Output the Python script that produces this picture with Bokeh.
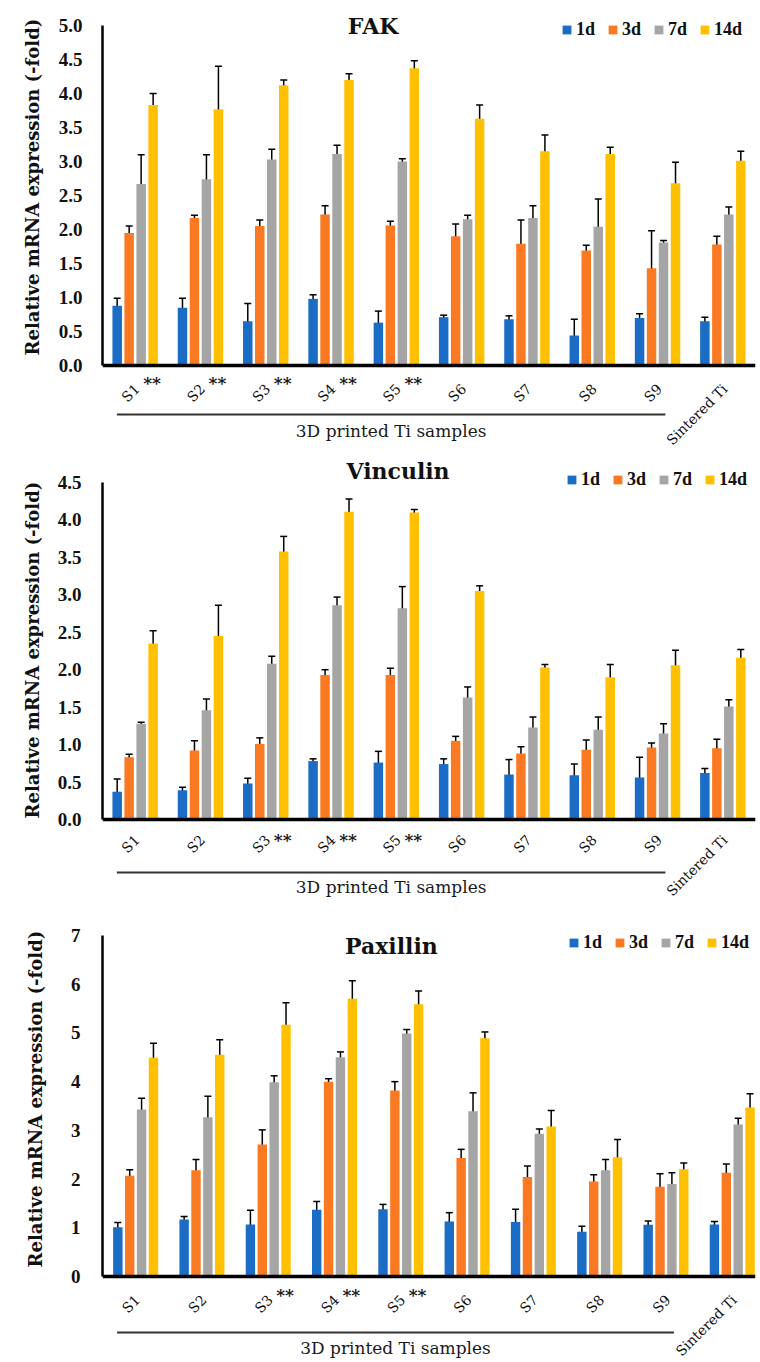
from math import pi
from bokeh.plotting import figure
from bokeh.layouts import column
from bokeh.models import (ColumnDataSource, Range1d, FixedTicker, Whisker, TeeHead,
                          Legend, LegendItem, Label, Span, NumeralTickFormatter, Title)
from bokeh.core.properties import value
from bokeh.embed import file_html
from bokeh.resources import INLINE

# ---------------- data ----------------
categories = ["S1", "S2", "S3", "S4", "S5", "S6", "S7", "S8", "S9", "Sintered Ti"]
series_names = ["1d", "3d", "7d", "14d"]
group_label = "3D printed Ti samples"
y_title = "Relative mRNA expression (-fold)"

fak_marks = ["**", "**", "**", "**", "**", "", "", "", "", ""]
vin_marks = ["", "", "**", "**", "**", "", "", "", "", ""]
pax_marks = ["", "", "**", "**", "**", "", "", "", "", ""]

fak_1d = [0.88, 0.85, 0.65, 0.98, 0.63, 0.71, 0.68, 0.44, 0.70, 0.65]
fak_1d_err = [0.11, 0.14, 0.26, 0.06, 0.17, 0.03, 0.05, 0.24, 0.06, 0.06]
fak_3d = [1.95, 2.17, 2.05, 2.22, 2.06, 1.90, 1.79, 1.69, 1.43, 1.78]
fak_3d_err = [0.10, 0.04, 0.09, 0.13, 0.06, 0.18, 0.35, 0.08, 0.55, 0.12]
fak_7d = [2.67, 2.74, 3.03, 3.11, 3.00, 2.15, 2.17, 2.04, 1.81, 2.22]
fak_7d_err = [0.43, 0.36, 0.15, 0.13, 0.04, 0.06, 0.18, 0.41, 0.03, 0.11]
fak_14d = [3.83, 3.77, 4.12, 4.20, 4.37, 3.63, 3.15, 3.11, 2.68, 3.01]
fak_14d_err = [0.17, 0.63, 0.08, 0.09, 0.11, 0.20, 0.24, 0.10, 0.31, 0.14]
fak_ticks = [0.0, 0.5, 1.0, 1.5, 2.0, 2.5, 3.0, 3.5, 4.0, 4.5, 5.0]

vin_1d = [0.37, 0.39, 0.48, 0.78, 0.76, 0.74, 0.60, 0.59, 0.56, 0.62]
vin_1d_err = [0.17, 0.04, 0.07, 0.03, 0.15, 0.07, 0.20, 0.15, 0.27, 0.06]
vin_3d = [0.83, 0.92, 1.01, 1.93, 1.93, 1.05, 0.88, 0.93, 0.96, 0.95]
vin_3d_err = [0.04, 0.13, 0.08, 0.07, 0.09, 0.06, 0.09, 0.13, 0.06, 0.12]
vin_7d = [1.28, 1.46, 2.08, 2.86, 2.82, 1.63, 1.23, 1.20, 1.15, 1.51]
vin_7d_err = [0.02, 0.15, 0.10, 0.11, 0.29, 0.14, 0.14, 0.17, 0.13, 0.09]
vin_14d = [2.35, 2.45, 3.58, 4.11, 4.10, 3.05, 2.03, 1.90, 2.06, 2.16]
vin_14d_err = [0.17, 0.41, 0.20, 0.17, 0.04, 0.07, 0.04, 0.17, 0.20, 0.11]
vin_ticks = [0.0, 0.5, 1.0, 1.5, 2.0, 2.5, 3.0, 3.5, 4.0, 4.5]

pax_1d = [1.01, 1.17, 1.07, 1.37, 1.38, 1.13, 1.12, 0.92, 1.06, 1.07]
pax_1d_err = [0.10, 0.06, 0.29, 0.17, 0.10, 0.18, 0.26, 0.11, 0.08, 0.06]
pax_3d = [2.07, 2.18, 2.71, 4.00, 3.82, 2.43, 2.04, 1.95, 1.84, 2.13]
pax_3d_err = [0.12, 0.22, 0.30, 0.06, 0.18, 0.18, 0.23, 0.14, 0.27, 0.18]
pax_7d = [3.43, 3.27, 3.99, 4.50, 4.99, 3.39, 2.93, 2.18, 1.90, 3.12]
pax_7d_err = [0.23, 0.43, 0.13, 0.11, 0.08, 0.38, 0.10, 0.22, 0.23, 0.13]
pax_14d = [4.49, 4.55, 5.17, 5.70, 5.59, 4.89, 3.08, 2.45, 2.20, 3.47]
pax_14d_err = [0.30, 0.31, 0.45, 0.37, 0.27, 0.13, 0.33, 0.36, 0.13, 0.28]
pax_ticks = [0, 1, 2, 3, 4, 5, 6, 7]

# ---------------- styles ----------------
COLORS = ["#1A6CC4", "#F97A22", "#A5A5A5", "#FFC000"]
SERIF = "DejaVu Serif"
NUMF = "Liberation Serif"


def make_panel(title, vals, errs, marks, ticks, fmt, cfg):
    H = cfg["height"]
    left, right = cfg["left"], cfg["right"]
    base, top_px = cfg["base"], cfg["top_px"]
    ppu = (base - top_px) / ticks[-1]
    x_end = cfg["x_end"]
    cat_px = (right - left) / x_end

    def ypx(px_below):  # pixels below the baseline -> data
        return -px_below / ppu

    def xpx(px):  # canvas x pixel -> data
        return (px - left) / cat_px

    p = figure(width=760, height=H,
               x_range=Range1d(0, x_end),
               y_range=Range1d(-(H - base) / ppu, base / ppu),
               output_backend="svg", toolbar_location=None, title=None,
               x_axis_location=None,
               min_border_left=left, min_border_right=760 - right,
               min_border_top=0, min_border_bottom=0)
    p.outline_line_color = None
    p.xgrid.visible = False
    p.ygrid.visible = False

    # y axis
    ax = p.yaxis[0]
    ax.ticker = FixedTicker(ticks=ticks)
    ax.bounds = (0, ticks[-1])
    ax.formatter = NumeralTickFormatter(format=fmt)
    ax.major_tick_line_color = None
    ax.minor_tick_line_color = None
    ax.major_tick_out = 0
    ax.major_tick_in = 0
    ax.axis_line_width = 2.5
    ax.axis_line_color = "black"
    ax.major_label_standoff = cfg["tick_standoff"]
    ax.major_label_text_font = NUMF
    ax.major_label_text_font_style = "bold"
    ax.major_label_text_font_size = "19px"
    ax.major_label_text_color = "#111111"

    # y-axis title, placed on the left side and positioned along it
    p.add_layout(Title(text=y_title, align="left", offset=cfg["ytitle_offset"],
                       standoff=cfg["ytitle_standoff"],
                       text_font=SERIF, text_font_style="bold",
                       text_font_size="18px", text_color="#111111"), "left")

    # baseline (x axis line)
    p.add_layout(Span(location=0, dimension="width", line_color="black", line_width=3.5))

    n = len(categories)
    offsets = [-18, -6, 6, 18]
    bar_w = 9.5 / cat_px
    renderers = []
    for k in range(4):
        xs = [i + 0.5 + offsets[k] / cat_px for i in range(n)]
        v = vals[k]
        e = errs[k]
        src = ColumnDataSource(dict(x=xs, top=v,
                                    upper=[a + b for a, b in zip(v, e)],
                                    lower=[a - b for a, b in zip(v, e)]))
        r = p.vbar(x="x", top="top", width=bar_w, bottom=0, source=src,
                   fill_color=COLORS[k], line_color=None)
        renderers.append(r)
        p.add_layout(Whisker(source=src, base="x", upper="upper", lower="lower",
                             line_color="black", line_width=1.5,
                             upper_head=TeeHead(size=7, line_width=1.5, line_color="black"),
                             lower_head=TeeHead(size=7, line_width=1.5, line_color="black")))

    # category labels (rotated, right end anchored under each group)
    lab_src = ColumnDataSource(dict(
        x=[i + 0.5 + 2 / cat_px for i in range(n)],
        y=[ypx(cfg["cat_px_below"])] * n,
        t=categories))
    p.text(x="x", y="y", text="t", source=lab_src, angle=pi / 4,
           text_align="right", text_baseline="middle",
           text_font=value(SERIF), text_font_style="normal",
           text_font_size="14px", text_color="#111111")

    # significance marks
    mk_src = ColumnDataSource(dict(
        x=[i + 0.5 + 17 / cat_px for i in range(n)],
        y=[ypx(cfg["mark_px"])] * n,
        t=marks))
    p.text(x="x", y="y", text="t", source=mk_src,
           text_align="center", text_baseline="middle",
           text_font=value(SERIF), text_font_style="bold",
           text_font_size="17px", text_color="#1a1a1a")

    # group bracket line + label
    gx0, gx1 = 0.22, 8.62
    gy = ypx(cfg["line_px"])
    p.line(x=[gx0, gx1], y=[gy, gy], line_color="#333333", line_width=1.8)
    p.add_layout(Label(x=(gx0 + gx1) / 2, y=ypx(cfg["group_px"]), text=group_label,
                       text_align="center", text_baseline="middle",
                       text_font=SERIF, text_font_size="17px", text_color="#1a1a1a"))

    # title
    tx, ty = cfg["title_xy"]
    p.add_layout(Label(x=xpx(tx), y=(base - ty) / ppu, text=title,
                       text_align="center", text_baseline="middle",
                       text_font=SERIF, text_font_style="bold",
                       text_font_size="22px", text_color="#111111"))

    # legend
    lx, ly = cfg["legend_xy"]
    lh = 20
    legend = Legend(items=[LegendItem(label=s, renderers=[r]) for s, r in zip(series_names, renderers)],
                    orientation="horizontal",
                    location=(lx - left, H - (ly - lh / 2) - lh),
                    background_fill_alpha=0, border_line_color=None,
                    padding=0, margin=0, spacing=11,
                    glyph_width=11, glyph_height=11, label_standoff=4,
                    label_height=lh,
                    label_text_font=NUMF, label_text_font_style="bold",
                    label_text_font_size="18px", label_text_color="#111111")
    p.add_layout(legend)
    return p


cfg1 = dict(height=450, left=101, right=755, x_end=10, base=365, top_px=25,
            tick_standoff=20, ytitle_offset=95, ytitle_standoff=26,
            cat_px_below=21, mark_px=17, line_px=49, group_px=65,
            title_xy=(372, 25), legend_xy=(560, 30))
cfg2 = dict(height=450, left=102, right=756, x_end=10, base=369, top_px=32,
            tick_standoff=21, ytitle_offset=82, ytitle_standoff=24,
            cat_px_below=18, mark_px=20, line_px=53, group_px=67,
            title_xy=(398, 20), legend_xy=(566, 30))
cfg3 = dict(height=462, left=100, right=760, x_end=660 / 67, base=376, top_px=35,
            tick_standoff=22, ytitle_offset=95, ytitle_standoff=44,
            cat_px_below=21, mark_px=18, line_px=56, group_px=71,
            title_xy=(392, 45), legend_xy=(566, 43))

p1 = make_panel("FAK", [fak_1d, fak_3d, fak_7d, fak_14d],
                [fak_1d_err, fak_3d_err, fak_7d_err, fak_14d_err],
                fak_marks, fak_ticks, "0.0", cfg1)
p2 = make_panel("Vinculin", [vin_1d, vin_3d, vin_7d, vin_14d],
                [vin_1d_err, vin_3d_err, vin_7d_err, vin_14d_err],
                vin_marks, vin_ticks, "0.0", cfg2)
p3 = make_panel("Paxillin", [pax_1d, pax_3d, pax_7d, pax_14d],
                [pax_1d_err, pax_3d_err, pax_7d_err, pax_14d_err],
                pax_marks, pax_ticks, "0", cfg3)

layout = column(p1, p2, p3, spacing=0)
open("out.html", "w").write(file_html(layout, INLINE))
